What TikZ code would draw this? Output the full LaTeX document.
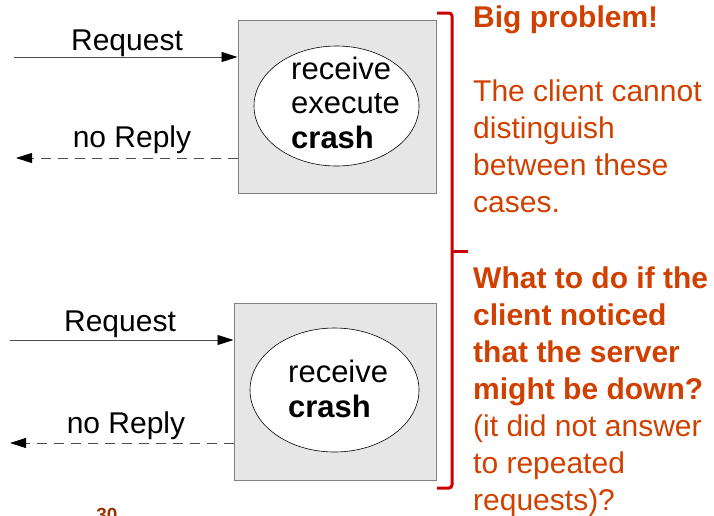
\documentclass[tikz,border=0pt]{standalone}
\usepackage{fontspec}
\setmainfont{Liberation Sans}
\usetikzlibrary{shapes.geometric}
\usetikzlibrary{arrows.meta}
\usetikzlibrary{positioning}
\definecolor{boxgray}{HTML}{E6E6E6}
\definecolor{noteorange}{HTML}{D04000}
\definecolor{bracered}{HTML}{CC0000}
\definecolor{pagebrown}{HTML}{993300}

\begin{document}
\begin{tikzpicture}[x=1pt,y=-1pt,
  srvbox/.style={rectangle,draw=gray,fill=boxgray,line width=1pt,inner sep=0pt},
  srvcore/.style={ellipse,draw,fill=white,line width=0.6pt,inner sep=0pt},
  srvtext/.style={align=left,inner sep=0pt,anchor=base west,font=\fontsize{31}{34.5}\selectfont},
  lbl/.style={inner sep=0pt,anchor=base,font=\fontsize{30}{36}\selectfont},
  msg/.style={draw=black!70,line width=0.8pt,-{Triangle[length=16pt,width=10pt,black]}},
  reply/.style={msg,dash pattern=on 10pt off 7pt},
  note/.style={align=left,inner sep=0pt,anchor=base west,text=noteorange,font=\fontsize{30}{37}\selectfont},
  brace/.style={draw=bracered,line width=3pt,rounded corners=3pt}]
\useasboundingbox (0,0) rectangle (714,515);

\node[srvbox,minimum width=198pt,minimum height=173pt] (box1) at (337,106.5) {};
\node[srvcore,minimum width=165pt,minimum height=120pt] (core1) at (336.5,106) {};
\node[srvtext] (job1) at (291,148) {receive\\execute\\\textbf{crash}};

\node[srvbox,minimum width=202pt,minimum height=177pt] (box2) at (335,391.5) {};
\node[srvcore,minimum width=169pt,minimum height=124pt] (core2) at (334.5,390) {};
\node[srvtext] (job2) at (288,417) {receive\\\textbf{crash}};

\coordinate (req1) at (14,57);
\coordinate (rep1) at (16,158);
\coordinate (req2) at (10,340);
\coordinate (rep2) at (10,443);
\draw[msg] (req1) -- (req1 -| box1.west);
\draw[reply] (rep1 -| box1.west) -- (rep1);
\draw[msg] (req2) -- (req2 -| box2.west);
\draw[reply] (rep2 -| box2.west) -- (rep2);

\node[lbl] (reqlbl1) at (127,50) {Request};
\node[lbl] (replbl1) at (132,147) {no Reply};
\node[lbl] (reqlbl2) at (120,331) {Request};
\node[lbl] (replbl2) at (126,433) {no Reply};

\coordinate (bt) at (437,13);
\coordinate (bm) at (468,251);
\coordinate (bb) at (437,488);
\draw[brace] (bt) -- (bt -| 452,0) -- (bb -| 452,0) -- (bb);
\draw[brace] (bm -| 452,0) -- (bm);

\node[note] (why) at (473,212) {\textbf{Big problem!}\\[37pt]The client cannot\\distinguish\\between these\\cases.};
\node[note] (what) at (473,510) {\textbf{What to do if the}\\\textbf{client noticed}\\\textbf{that the server}\\\textbf{might be down?}\\(it did not answer\\to repeated\\requests)?};

\node[inner sep=0pt,anchor=base,text=pagebrown,font=\fontsize{19}{20}\selectfont\bfseries] (pg) at (107,521) {30};
\end{tikzpicture}
\end{document}
